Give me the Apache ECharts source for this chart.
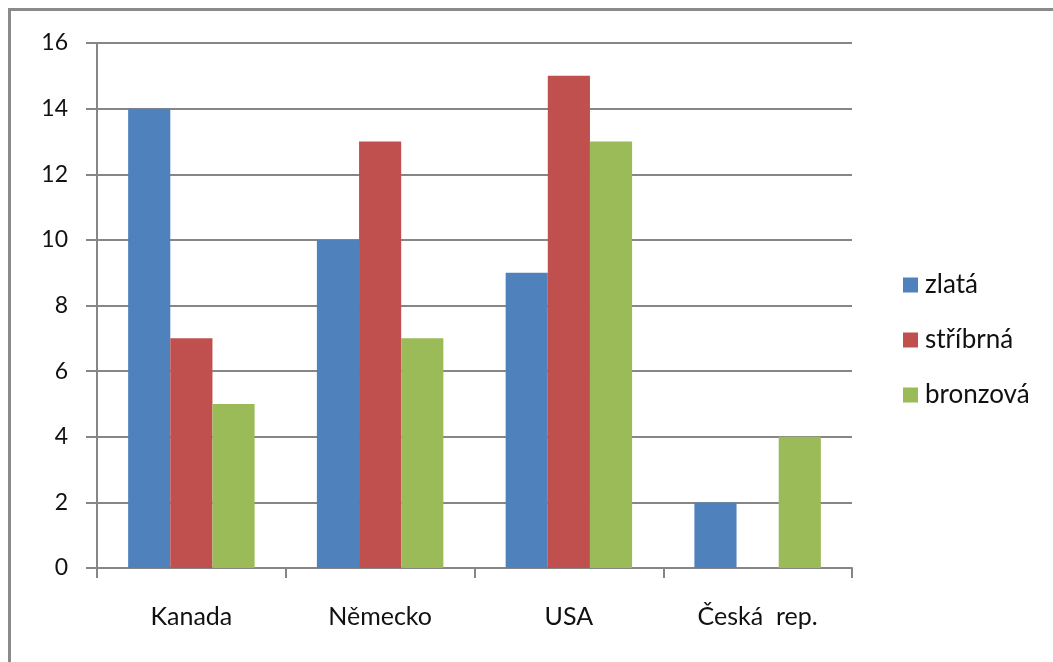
<!DOCTYPE html>
<html>
<head>
<meta charset="utf-8">
<script src="https://cdn.jsdelivr.net/npm/echarts@6/dist/echarts.min.js"></script>
<style>
html,body{margin:0;padding:0;background:#fff;}
#frame{position:absolute;left:8px;top:8px;width:1045px;height:654px;border-top:3px solid #8a8a8a;border-left:3px solid #8a8a8a;box-sizing:border-box;}
#chart{position:absolute;left:0;top:0;width:1053px;height:662px;}
</style>
</head>
<body>
<div id="frame"></div>
<div id="chart"></div>
<script>
const categories = ['Kanada', 'Německo', 'USA', 'Česká  rep.'];
const zlata = [14, 10, 9, 2];
const stribrna = [7, 13, 15, 0];
const bronzova = [5, 7, 13, 4];
const seriesNames = ['zlatá', 'stříbrná', 'bronzová'];
const colors = ['#4F81BD', '#C0504D', '#9BBB59'];

const chart = echarts.init(document.getElementById('chart'), null, {renderer: 'canvas'});
const font = 'Lato, "Open Sans", sans-serif';
chart.setOption({
  animation: false,
  color: colors,
  textStyle: {fontFamily: font},
  grid: {left: 97, right: 201, top: 43, bottom: 94, containLabel: false},
  legend: {
    orient: 'vertical',
    left: 898,
    top: 267,
    itemWidth: 15,
    itemHeight: 15,
    itemGap: 29,
    icon: 'rect',
    textStyle: {fontSize: 26, lineHeight: 26, color: '#111', fontFamily: font, padding: [0, 0, 0, 2]},
    data: seriesNames
  },
  xAxis: {
    type: 'category',
    data: categories,
    boundaryGap: true,
    axisLine: {lineStyle: {color: '#868686', width: 2}},
    axisTick: {show: true, length: 10, lineStyle: {color: '#868686', width: 2}},
    axisLabel: {color: '#111', fontSize: 25, margin: 36, fontFamily: font}
  },
  yAxis: {
    type: 'value',
    min: 0,
    max: 16,
    interval: 2,
    axisLine: {show: true, lineStyle: {color: '#868686', width: 2}},
    axisTick: {show: true, length: 11, lineStyle: {color: '#868686', width: 2}},
    splitLine: {show: true, lineStyle: {color: '#868686', width: 2}},
    axisLabel: {color: '#111', fontSize: 23, margin: 29, fontFamily: font}
  },
  series: [
    {name: seriesNames[0], type: 'bar', data: zlata, barGap: '0%', barCategoryGap: '33%'},
    {name: seriesNames[1], type: 'bar', data: stribrna, barGap: '0%', barCategoryGap: '33%'},
    {name: seriesNames[2], type: 'bar', data: bronzova, barGap: '0%', barCategoryGap: '33%'}
  ]
});
</script>
</body>
</html>
